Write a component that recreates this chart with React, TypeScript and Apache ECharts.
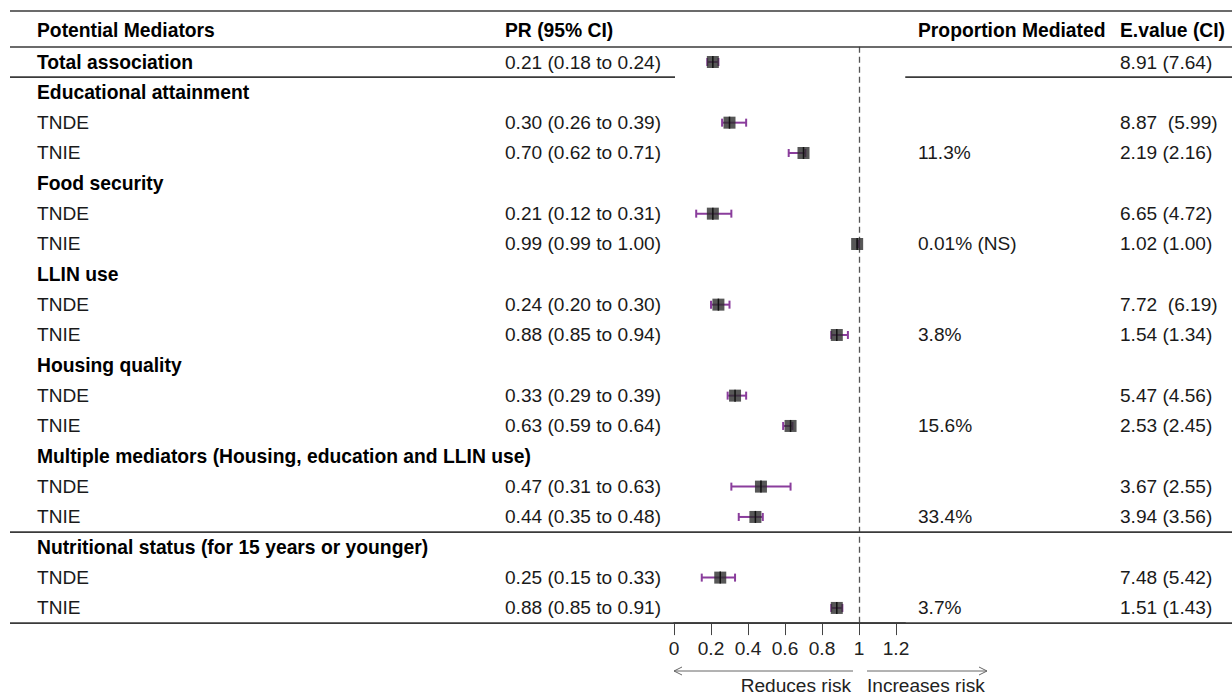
import React, { useEffect, useRef } from "react";
import * as echarts from "echarts";

// ---------- data ----------
const headers = ["Potential Mediators", "PR (95% CI)", "Proportion Mediated", "E.value (CI)"];

const labels = [
  "Total association",
  "Educational attainment", "TNDE", "TNIE",
  "Food security", "TNDE", "TNIE",
  "LLIN use", "TNDE", "TNIE",
  "Housing quality", "TNDE", "TNIE",
  "Multiple mediators (Housing, education and LLIN use)", "TNDE", "TNIE",
  "Nutritional status (for 15 years or younger)", "TNDE", "TNIE",
];
const isGroup = [
  true,
  true, false, false,
  true, false, false,
  true, false, false,
  true, false, false,
  true, false, false,
  true, false, false,
];
const prText = [
  "0.21 (0.18 to 0.24)",
  "", "0.30 (0.26 to 0.39)", "0.70 (0.62 to 0.71)",
  "", "0.21 (0.12 to 0.31)", "0.99 (0.99 to 1.00)",
  "", "0.24 (0.20 to 0.30)", "0.88 (0.85 to 0.94)",
  "", "0.33 (0.29 to 0.39)", "0.63 (0.59 to 0.64)",
  "", "0.47 (0.31 to 0.63)", "0.44 (0.35 to 0.48)",
  "", "0.25 (0.15 to 0.33)", "0.88 (0.85 to 0.91)",
];
const pmText = [
  "",
  "", "", "11.3%",
  "", "", "0.01% (NS)",
  "", "", "3.8%",
  "", "", "15.6%",
  "", "", "33.4%",
  "", "", "3.7%",
];
const evText = [
  "8.91 (7.64)",
  "", "8.87  (5.99)", "2.19 (2.16)",
  "", "6.65 (4.72)", "1.02 (1.00)",
  "", "7.72  (6.19)", "1.54 (1.34)",
  "", "5.47 (4.56)", "2.53 (2.45)",
  "", "3.67 (2.55)", "3.94 (3.56)",
  "", "7.48 (5.42)", "1.51 (1.43)",
];
const est: (number | null)[] = [
  0.21,
  null, 0.30, 0.70,
  null, 0.21, 0.99,
  null, 0.24, 0.88,
  null, 0.33, 0.63,
  null, 0.47, 0.44,
  null, 0.25, 0.88,
];
const lower: (number | null)[] = [
  0.18,
  null, 0.26, 0.62,
  null, 0.12, 0.99,
  null, 0.20, 0.85,
  null, 0.29, 0.59,
  null, 0.31, 0.35,
  null, 0.15, 0.85,
];
const upper: (number | null)[] = [
  0.24,
  null, 0.39, 0.71,
  null, 0.31, 1.00,
  null, 0.30, 0.94,
  null, 0.39, 0.64,
  null, 0.63, 0.48,
  null, 0.33, 0.91,
];
const tickValues = [0, 0.2, 0.4, 0.6, 0.8, 1, 1.2];
const tickLabels = ["0", "0.2", "0.4", "0.6", "0.8", "1", "1.2"];
const refValue = 1;
const arrowLabels = ["Reduces risk", "Increases risk"];

// ---------- layout ----------
const W = 1232;
const H = 696;
const ROW_H = 30.33;
const ROW0_Y = 62;
const GRID_TOP = ROW0_Y - ROW_H / 2;
const GRID_H = ROW_H * labels.length;
const PLOT_LEFT = 674;
const UNIT = 185;
const X_MAX = 1.25;
const COLS = [37, 505, 918, 1120];
const FONT = '"Liberation Sans", Arial, Helvetica, sans-serif';
const FS = 19.1;
const FSB = 19.3;
const PURPLE = "#8a3d9c";
const RULE = "#3a3a3a";

const rowY = (r: number) => ROW0_Y + r * ROW_H;
const px = (v: number) => PLOT_LEFT + v * UNIT;

export default function App() {
  const ref = useRef<HTMLDivElement>(null);
  useEffect(() => {
    if (!ref.current) return;
    const chart = echarts.init(ref.current, undefined, { renderer: "svg" });

    const forestData: number[][] = [];
    est.forEach((e, i) => {
      if (e != null) forestData.push([e, i, lower[i] as number, upper[i] as number]);
    });
    const textData = labels.map((_, i) => [0, i]);

    const headerY = 30.5;
    const ruleTop = 11;
    const ruleHeader = 47;
    const bottomY = GRID_TOP + GRID_H;
    const arrowY = 671;
    const arrowTextY = 685;
    const hl = (x1: number, x2: number, y: number, w = 1.6) => ({
      type: "line",
      shape: { x1, y1: y, x2, y2: y },
      style: { stroke: RULE, lineWidth: w },
      z: 10,
    });

    const graphics: any[] = [
      hl(10, W, ruleTop),
      hl(10, W, ruleHeader),
      hl(10, px(0) + 1, rowY(0.5)),
      hl(px(X_MAX), W, rowY(0.5)),
      hl(10, W, rowY(15.5)),
      hl(10, W, bottomY),
      ...headers.map((h, k) => ({
        type: "text",
        x: COLS[k],
        y: headerY,
        style: {
          text: h,
          font: `bold ${FSB}px ${FONT}`,
          fill: "#000",
          verticalAlign: "middle",
          textVerticalAlign: "middle",
        },
      })),
      // arrows
      {
        type: "line",
        shape: { x1: px(0), y1: arrowY, x2: px(refValue) - 6, y2: arrowY },
        style: { stroke: "#666", lineWidth: 1 },
      },
      {
        type: "polyline",
        shape: { points: [[px(0) + 8, arrowY - 4], [px(0), arrowY], [px(0) + 8, arrowY + 4]] },
        style: { stroke: "#666", lineWidth: 1, fill: "none" },
      },
      {
        type: "line",
        shape: { x1: px(refValue) + 8, y1: arrowY, x2: 987, y2: arrowY },
        style: { stroke: "#666", lineWidth: 1 },
      },
      {
        type: "polyline",
        shape: { points: [[979, arrowY - 4], [987, arrowY], [979, arrowY + 4]] },
        style: { stroke: "#666", lineWidth: 1, fill: "none" },
      },
      {
        type: "text",
        x: px(refValue) - 8,
        y: arrowTextY,
        style: {
          text: arrowLabels[0],
          font: `${FS}px ${FONT}`,
          fill: "#222",
          align: "right",
          textAlign: "right",
          verticalAlign: "middle",
          textVerticalAlign: "middle",
        },
      },
      {
        type: "text",
        x: px(refValue) + 8,
        y: arrowTextY,
        style: {
          text: arrowLabels[1],
          font: `${FS}px ${FONT}`,
          fill: "#222",
          verticalAlign: "middle",
          textVerticalAlign: "middle",
        },
      },
    ];

    chart.setOption({
      animation: false,
      backgroundColor: "#fff",
      grid: { left: PLOT_LEFT, top: GRID_TOP, width: UNIT * X_MAX, height: GRID_H, containLabel: false },
      xAxis: {
        type: "value",
        position: "bottom",
        min: 0,
        max: X_MAX,
        splitLine: { show: false },
        axisLine: { show: true, onZero: false, lineStyle: { color: RULE, width: 1.5 } },
        axisTick: { show: true, length: 12, customValues: tickValues, lineStyle: { color: "#444", width: 1 } },
        axisLabel: {
          customValues: tickValues,
          formatter: (v: number) => {
            const k = tickValues.findIndex((t) => Math.abs(t - v) < 1e-6);
            return k >= 0 ? tickLabels[k] : "";
          },
          fontSize: FS,
          fontFamily: FONT,
          color: "#222",
          margin: 16,
        },
      },
      yAxis: { type: "value", min: -0.5, max: labels.length - 0.5, inverse: true, show: false },
      graphic: graphics,
      series: [
        {
          type: "custom",
          name: "text",
          data: textData,
          encode: { x: 0, y: 1 },
          silent: true,
          clip: false,
          z: 5,
          renderItem: (params: any, api: any) => {
            const i = params.dataIndex;
            const y = api.coord([0, i])[1];
            const cells = [labels[i], prText[i], pmText[i], evText[i]];
            const children: any[] = [];
            cells.forEach((t, k) => {
              if (!t) return;
              const bold = isGroup[i] && k === 0;
              children.push({
                type: "text",
                x: COLS[k],
                y,
                style: {
                  text: t,
                  font: `${bold ? "bold " : ""}${bold ? FSB : FS}px ${FONT}`,
                  fill: bold ? "#000" : "#1a1a1a",
                  verticalAlign: "middle",
                  textVerticalAlign: "middle",
                },
              });
            });
            return { type: "group", children };
          },
        },
        {
          type: "custom",
          name: "forest",
          data: forestData,
          encode: { x: [0, 2, 3], y: 1 },
          clip: false,
          z: 6,
          renderItem: (params: any, api: any) => {
            const e = api.value(0);
            const r = api.value(1);
            const lo = api.value(2);
            const hi = api.value(3);
            const [xe, y] = api.coord([e, r]);
            const xl = api.coord([lo, r])[0];
            const xh = api.coord([hi, r])[0];
            const s = 12;
            return {
              type: "group",
              children: [
                { type: "line", shape: { x1: xl, y1: y, x2: xh, y2: y }, style: { stroke: PURPLE, lineWidth: 2 } },
                { type: "line", shape: { x1: xl, y1: y - 4, x2: xl, y2: y + 4 }, style: { stroke: PURPLE, lineWidth: 2 } },
                { type: "line", shape: { x1: xh, y1: y - 4, x2: xh, y2: y + 4 }, style: { stroke: PURPLE, lineWidth: 2 } },
                { type: "rect", shape: { x: xe - s / 2, y: y - s / 2, width: s, height: s }, style: { fill: "rgba(45,45,45,0.8)" } },
                { type: "line", shape: { x1: xe, y1: y - s / 2, x2: xe, y2: y + s / 2 }, style: { stroke: "#111", lineWidth: 1.5 } },
              ],
            };
          },
          markLine: {
            silent: true,
            symbol: "none",
            label: { show: false },
            lineStyle: { color: "#555", type: [6, 4], width: 1.3 },
            data: [{ xAxis: refValue }],
          },
        },
      ],
    });
    return () => chart.dispose();
  }, []);

  return (
    <div
      ref={ref}
      style={{ position: "fixed", left: 0, top: 0, width: W, height: H, background: "#fff" }}
    />
  );
}
